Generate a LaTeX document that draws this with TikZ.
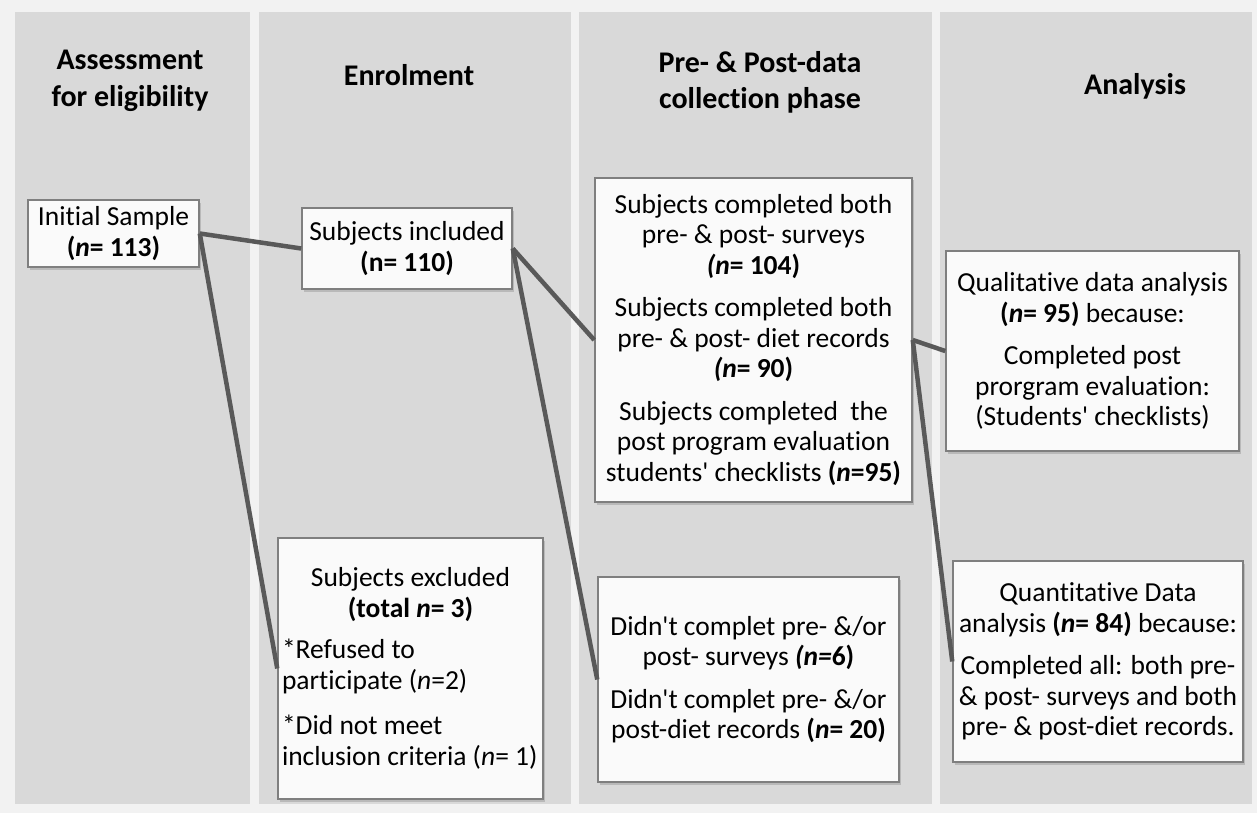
\documentclass[tikz,border=0pt]{standalone}
\usepackage{fontspec}
\setmainfont{Carlito}[Ligatures={TeXOff,NoCommon}]
\usetikzlibrary{shadows}
\definecolor{pagebg}{HTML}{F2F2F2}
\definecolor{colbg}{HTML}{D9D9D9}
\definecolor{boxline}{HTML}{7F7F7F}
\definecolor{boxfill}{HTML}{FAFAFA}
\definecolor{linkgray}{HTML}{595959}
\newcommand{\nn}{\textit{n}}
\newcommand{\boxfont}{\fontsize{27.5}{30.5}\selectfont}
\newcommand{\headfont}{\fontsize{30}{36.6}\selectfont\bfseries}
\begin{document}
\begin{tikzpicture}[x=1pt,y=-1pt,
    box/.style={draw=boxline,line width=1.5pt,fill=boxfill,font=\boxfont,align=center,inner sep=4pt,
      drop shadow={shadow xshift=2pt,shadow yshift=-2.5pt,opacity=0.35}},
    head/.style={font=\headfont,align=center},
    link/.style={draw=linkgray,line width=4.5pt}]
  % 背景和四列
  \fill[pagebg] (0,0) rectangle (1257,813);
  \useasboundingbox (0,0) rectangle (1257,813);
  \fill[colbg] (15,12) rectangle (250,804);
  \fill[colbg] (259,12) rectangle (571,804);
  \fill[colbg] (579,12) rectangle (932,804);
  \fill[colbg] (940,12) rectangle (1252,804);
  % 列标题
  \node[head] (h1) at (130,81) {Assessment\\ for eligibility};
  \node[head] (h2) at (409,75) {Enrolment};
  \node[head] (h3) at (760,82.5) {Pre- \& Post-data\\ collection phase};
  \node[head] (h4) at (1135,86) {Analysis};
  % 方框
  \node[box,minimum width=171,minimum height=67] (init) at (113.5,233.5)
    {Initial Sample\\ \textbf{(\nn= 113)}};
  \node[box,minimum width=210,minimum height=81] (incl) at (407,248.5)
    {Subjects included\\ \textbf{(n= 110)}};
  \node[box,minimum width=265,minimum height=261,text width=257pt,align=none] (excl) at (410.5,668.5)
    {\centering Subjects excluded\\ \textbf{(total \nn= 3)}\par\vspace{11pt}
     \raggedright *Refused to\\ participate (\nn=2)\\[15pt]
     *Did not meet\\ inclusion criteria (\nn= 1)\par};
  \node[box,minimum width=317,minimum height=324] (comp) at (753.5,340)
    {Subjects completed both\\ pre- \& post- surveys\\ \textbf{\textit{(n}= 104)}\\[12pt]
     Subjects completed both\\ pre- \& post- diet records\\ \textbf{\textit{(n}= 90)}\\[12pt]
     Subjects completed\ \ the\\ post program evaluation\\ students' checklists \textbf{(\nn=95)}};
  \node[box,minimum width=301,minimum height=205] (miss) at (748.5,679.5)
    {Didn't complet pre- \&/or\\ post- surveys \textbf{\textit{(n=}6)}\\[12pt]
     Didn't complet pre- \&/or\\ post-diet records \textbf{(\nn= 20)}};
  \node[box,minimum width=293,minimum height=200] (qual) at (1092.5,351)
    {Qualitative data analysis\\ \textbf{(\nn= 95)} because:\\[12pt]
     Completed post\\ prorgram evaluation:\\ (Students' checklists)};
  \node[box,minimum width=290,minimum height=201] (quant) at (1098,661.5)
    {Quantitative Data\\ analysis \textbf{(\nn= 84)} because:\\[12pt]
     Completed all: both pre-\\ \& post- surveys and both\\ pre- \& post-diet records.};
  % 连线
  \draw[link] (init.east) -- (incl.west);
  \draw[link] (init.east) -- (excl.west);
  \draw[link] (incl.east) -- (comp.west);
  \draw[link] (incl.east) -- (miss.west);
  \draw[link] (comp.east) -- (qual.west);
  \draw[link] (comp.east) -- (quant.west);
\end{tikzpicture}
\end{document}
